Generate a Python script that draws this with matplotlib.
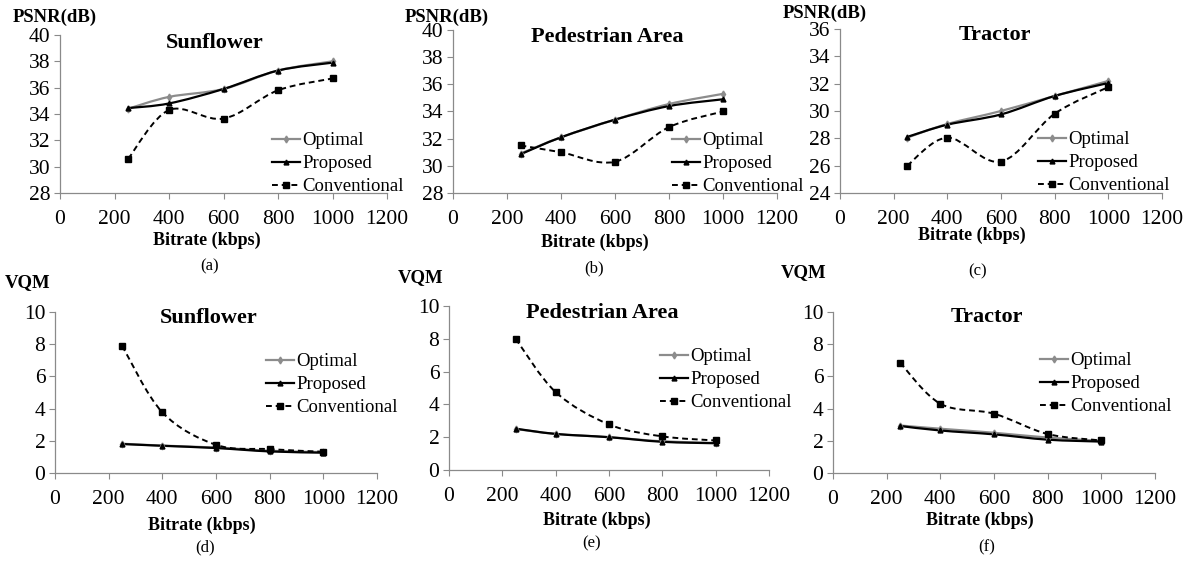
import numpy as np
import matplotlib
matplotlib.use("Agg")
import matplotlib.pyplot as plt
from matplotlib.path import Path
from matplotlib.patches import PathPatch
from matplotlib.lines import Line2D

plt.rcParams['font.family'] = ['Liberation Serif', 'DejaVu Serif']

# data
bitrate = [250, 400, 600, 800, 1000]

psnr_sunflower_opt = [34.4, 35.3, 35.9, 37.3, 38.0]
psnr_sunflower_prop = [34.45, 34.8, 35.9, 37.3, 37.9]
psnr_sunflower_conv = [30.6, 34.3, 33.65, 35.8, 36.7]

psnr_pedestrian_opt = [30.9, 32.1, 33.4, 34.55, 35.3]
psnr_pedestrian_prop = [30.85, 32.1, 33.4, 34.4, 34.9]
psnr_pedestrian_conv = [31.5, 31.0, 30.3, 32.85, 34.0]

psnr_tractor_opt = [28.05, 29.05, 30.0, 31.1, 32.2]
psnr_tractor_prop = [28.1, 29.0, 29.75, 31.1, 32.05]
psnr_tractor_conv = [26.0, 28.05, 26.3, 29.8, 31.75]

vqm_sunflower_opt = [1.82, 1.7, 1.58, 1.38, 1.3]
vqm_sunflower_prop = [1.8, 1.69, 1.55, 1.34, 1.26]
vqm_sunflower_conv = [7.9, 3.77, 1.75, 1.48, 1.32]

vqm_pedestrian_opt = [2.5, 2.2, 2.0, 1.75, 1.65]
vqm_pedestrian_prop = [2.52, 2.2, 2.0, 1.72, 1.63]
vqm_pedestrian_conv = [8.0, 4.75, 2.78, 2.05, 1.8]

vqm_tractor_opt = [2.95, 2.75, 2.5, 2.2, 2.0]
vqm_tractor_prop = [2.92, 2.64, 2.4, 2.07, 1.95]
vqm_tractor_conv = [6.85, 4.3, 3.68, 2.42, 2.02]

W, H = 1200, 561


def fx(px):
    return px / W


def fy(py):
    return 1 - py / H


def smooth_line(ax, x, y, color, lw, ls):
    # excel-style smoothed line: bezier segments through the points
    pts = np.column_stack([x, y]).astype(float)
    n = len(pts)
    verts = [pts[0]]
    codes = [Path.MOVETO]
    for i in range(n - 1):
        p0 = pts[i - 1] if i > 0 else pts[i]
        p1 = pts[i]
        p2 = pts[i + 1]
        p3 = pts[i + 2] if i + 2 < n else pts[i + 1]
        verts += [p1 + (p2 - p0) / 6, p2 - (p3 - p1) / 6, p2]
        codes += [Path.CURVE4] * 3
    patch = PathPatch(Path(verts, codes), fill=False, edgecolor=color, lw=lw, linestyle=ls)
    ax.add_patch(patch)


panels = [
    # axes box (left, top, right, bottom) in px, ylim, yticks, title, title pos, legend pos, series
    dict(box=(60, 35, 387, 193), ylim=(28, 40), yt=np.arange(28, 41, 2), title="Sunflower", tpos=(215, 43),
         leg=(272, 130), xl=(207, 240), sub=("(a)", 210, 266), ylab=("PSNR(dB)", 13, 17),
         data=(psnr_sunflower_opt, psnr_sunflower_prop, psnr_sunflower_conv)),
    dict(box=(453, 30, 777, 193), ylim=(28, 40), yt=np.arange(28, 41, 2), title="Pedestrian Area", tpos=(607, 37),
         leg=(672, 130), xl=(595, 242), sub=("(b)", 594, 268), ylab=("PSNR(dB)", 405, 17),
         data=(psnr_pedestrian_opt, psnr_pedestrian_prop, psnr_pedestrian_conv)),
    dict(box=(840, 29, 1162, 193), ylim=(24, 36), yt=np.arange(24, 37, 2), title="Tractor", tpos=(995, 35),
         leg=(1038, 129), xl=(972, 235), sub=("(c)", 978, 271), ylab=("PSNR(dB)", 783, 13),
         data=(psnr_tractor_opt, psnr_tractor_prop, psnr_tractor_conv)),
    dict(box=(55, 312, 377, 473), ylim=(0, 10), yt=np.arange(0, 11, 2), title="Sunflower", tpos=(209, 318),
         leg=(266, 351), xl=(202, 525), sub=("(d)", 205, 547), ylab=("VQM", 5, 283),
         data=(vqm_sunflower_opt, vqm_sunflower_prop, vqm_sunflower_conv)),
    dict(box=(449, 306, 769, 470), ylim=(0, 10), yt=np.arange(0, 11, 2), title="Pedestrian Area", tpos=(602, 313),
         leg=(660, 346), xl=(597, 520), sub=("(e)", 592, 543), ylab=("VQM", 398, 278),
         data=(vqm_pedestrian_opt, vqm_pedestrian_prop, vqm_pedestrian_conv)),
    dict(box=(833, 312, 1155, 473), ylim=(0, 10), yt=np.arange(0, 11, 2), title="Tractor", tpos=(987, 317),
         leg=(1040, 350), xl=(980, 520), sub=("(f)", 987, 547), ylab=("VQM", 781, 273),
         data=(vqm_tractor_opt, vqm_tractor_prop, vqm_tractor_conv)),
]

fig = plt.figure(figsize=(12, 5.61), dpi=100)

for p in panels:
    l, t, r, b = p["box"]
    ax = fig.add_axes([fx(l), fy(b), (r - l) / W, (b - t) / H])
    ax.set_xlim(0, 1200)
    ax.set_ylim(*p["ylim"])
    ax.set_xticks(np.arange(0, 1201, 200))
    ax.set_yticks(p["yt"])
    for s in ["top", "right"]:
        ax.spines[s].set_visible(False)
    for s in ["left", "bottom"]:
        ax.spines[s].set_color("#8a8a8a")
        ax.spines[s].set_linewidth(0.9)
    ax.tick_params(axis="both", direction="out", length=4, color="#8a8a8a", labelsize=15.5)
    ax.tick_params(axis="x", pad=8)
    ax.tick_params(axis="y", pad=3)

    opt, prop, conv = p["data"]
    smooth_line(ax, bitrate, opt, "#8c8c8c", 1.6, "-")
    ax.plot(bitrate, opt, linestyle="none", marker="d", ms=3.5, color="#8c8c8c")
    smooth_line(ax, bitrate, prop, "black", 1.6, "-")
    ax.plot(bitrate, prop, linestyle="none", marker="^", ms=3.5, color="black")
    smooth_line(ax, bitrate, conv, "black", 1.4, (0, (3, 2)))
    ax.plot(bitrate, conv, linestyle="none", marker="s", ms=4.5, color="black")

    handles = [
        Line2D([], [], color="#8c8c8c", lw=1.6, marker="d", ms=3.5),
        Line2D([], [], color="black", lw=1.6, marker="^", ms=3.5),
        Line2D([], [], color="black", lw=1.4, ls=(0, (3, 2)), marker="s", ms=4.5),
    ]
    lx, ly = p["leg"]
    fig.legend(handles, ["Optimal", "Proposed", "Conventional"], loc="upper left",
               bbox_to_anchor=(fx(lx), fy(ly + 2)), frameon=False, fontsize=13.5,
               borderpad=0, borderaxespad=0, handlelength=1.5, handletextpad=0.1,
               labelspacing=0.32)

    fig.text(fx(p["tpos"][0]), fy(p["tpos"][1]), p["title"], ha="center", va="center",
             fontsize=16, fontweight="bold")
    fig.text(fx(p["xl"][0]), fy(p["xl"][1]), "Bitrate (kbps)", ha="center", va="center",
             fontsize=13, fontweight="bold")
    txt, sx, sy = p["sub"]
    fig.text(fx(sx), fy(sy), txt, ha="center", va="center", fontsize=12)
    lab, yx, yy = p["ylab"]
    fig.text(fx(yx), fy(yy), lab, ha="left", va="center", fontsize=13.5, fontweight="bold")

fig.savefig("out.png", dpi=100)
